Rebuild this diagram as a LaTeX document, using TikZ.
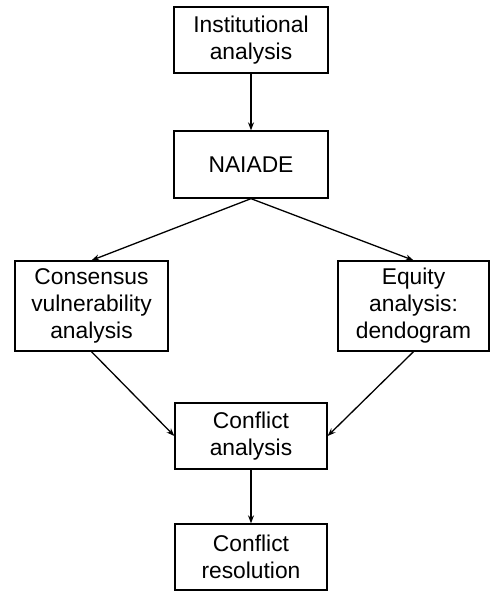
\documentclass[tikz,border=0pt]{standalone}
\usepackage{fontspec}
\setmainfont{Liberation Sans}
\usetikzlibrary{arrows.meta}
\begin{document}
\begin{tikzpicture}[x=1pt,y=-1pt,
  box/.style={draw,line width=1.3pt,align=center,inner sep=0pt,
    font=\fontsize{22.8}{27}\selectfont},
  arr/.style={line width=1.3pt,-{Stealth[length=8pt,width=6pt]}}]
\useasboundingbox (0,0) rectangle (490,591);
\node[box,minimum width=154pt,minimum height=66pt] (inst) at (251,40) {Institutional\\analysis};
\node[box,minimum width=154pt,minimum height=67pt] (naiade) at (251,164.5) {NAIADE};
\node[box,minimum width=153pt,minimum height=90pt] (cons) at (91.5,306) {Consensus\\vulnerability\\analysis};
\node[box,minimum width=151pt,minimum height=90pt] (eq) at (413.5,306) {Equity\\analysis:\\dendogram};
\node[box,minimum width=152pt,minimum height=66pt] (ca) at (251,436) {Conflict\\analysis};
\node[box,minimum width=152pt,minimum height=66pt] (cr) at (251,557) {Conflict\\resolution};
\draw[arr] (inst) -- (naiade);
\draw[arr] (naiade.south) -- (cons.north);
\draw[arr] (naiade.south) -- (eq.north);
\draw[arr] (cons.south) -- (ca.west);
\draw[arr] (eq.south) -- (ca.east);
\draw[arr] (ca) -- (cr);
\end{tikzpicture}
\end{document}
